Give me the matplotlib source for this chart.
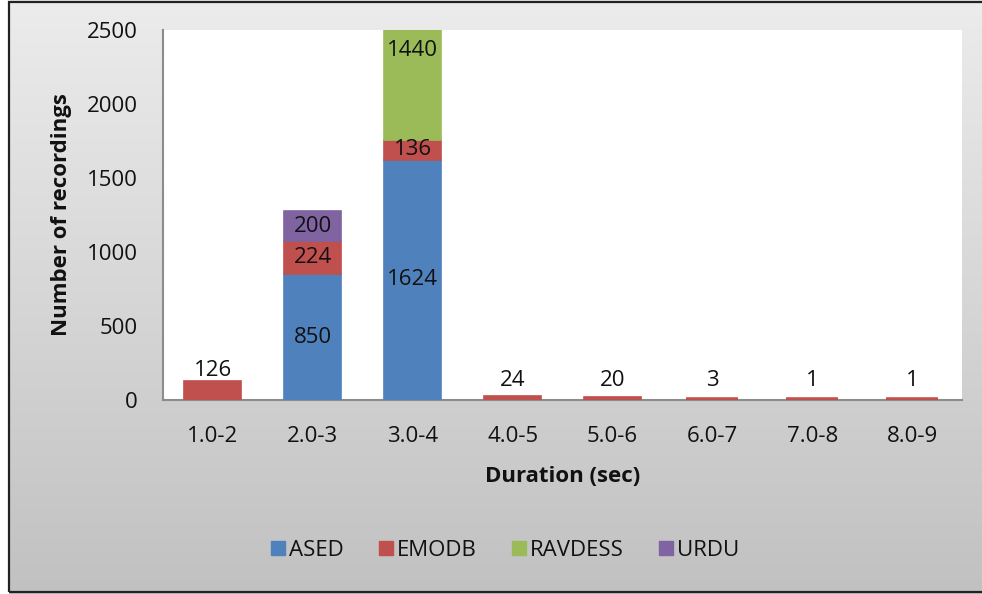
import numpy as np
import matplotlib
matplotlib.use("Agg")
import matplotlib.pyplot as plt
from matplotlib.patches import Rectangle
from matplotlib.lines import Line2D
from matplotlib.colors import LinearSegmentedColormap

categories = ["1.0-2", "2.0-3", "3.0-4", "4.0-5", "5.0-6", "6.0-7", "7.0-8", "8.0-9"]
series_names = ["ASED", "EMODB", "RAVDESS", "URDU"]
ased = [0, 850, 1624, 0, 0, 0, 0, 0]
emodb = [126, 224, 136, 24, 20, 3, 1, 1]
ravdess = [0, 0, 1440, 0, 0, 0, 0, 0]
urdu = [0, 200, 0, 0, 0, 0, 0, 0]
colors = ["#4F81BD", "#C0504D", "#9BBB59", "#8064A2"]
yticks = [0, 500, 1000, 1500, 2000, 2500]

FONT = "Open Sans"
plt.rcParams["font.family"] = [FONT, "DejaVu Sans"]
FS = 16

W, H = 982, 594
fig = plt.figure(figsize=(W / 100, H / 100), dpi=100)
fig.patch.set_facecolor("white")

# gradient background
bg = fig.add_axes([0, 0, 1, 1], zorder=-10)
grad = np.linspace(0, 1, 256).reshape(-1, 1)
cmap = LinearSegmentedColormap.from_list("g", ["#ececec", "#c1c1c1"])
bg.imshow(grad, aspect="auto", cmap=cmap, extent=[0, 1, 0, 1], origin="upper")
bg.set_xlim(0, 1)
bg.set_ylim(0, 1)
bg.axis("off")
bg.add_patch(Rectangle((0, 0), 8 / W, 1, color="white", zorder=2))
bg.add_patch(Rectangle((8.5 / W, 2 / H), 1.2, 590 / H, fill=False, edgecolor="#222222", linewidth=1.6, zorder=3))

ax = fig.add_axes([163 / W, 1 - 400 / H, (962 - 163) / W, (400 - 30) / H])
ax.set_facecolor("white")

x = np.arange(len(categories))
data = [ased, emodb, ravdess, urdu]
bottom = np.zeros(len(categories))
ymax = 2500
nonzero_count = np.sum([np.array(d) > 0 for d in data], axis=0)
for name, vals, col in zip(series_names, data, colors):
    vals = np.array(vals, dtype=float)
    m = vals > 0
    small = m & (vals < 20) & (nonzero_count == 1)
    big = m & ~small
    ax.bar(x[big], vals[big], 0.57, bottom=bottom[big], color=col, edgecolor=col,
           linewidth=1.2, label=name, zorder=3)
    if small.any():
        # minimum rendered thickness for very small bars
        ax.bar(x[small], vals[small], 0.52, bottom=bottom[small], color=col, edgecolor=col,
               linewidth=4, zorder=3)
    for i, v in enumerate(vals):
        if v <= 0:
            continue
        if nonzero_count[i] == 1:
            ax.text(x[i], max(bottom[i] + v, 60), f"{int(v)}", ha="center", va="bottom",
                    fontsize=FS, color="#111111", zorder=4)
        else:
            yc = bottom[i] + v / 2
            if bottom[i] + v > ymax:
                yc = ymax - 140
            ax.text(x[i], yc, f"{int(v)}", ha="center", va="center",
                    fontsize=FS, color="#111111", zorder=4)
    bottom += vals

ax.set_xlim(-0.5, len(categories) - 0.5)
ax.set_ylim(0, ymax)
ax.set_yticks(yticks)
ax.set_yticklabels([str(t) for t in yticks], fontsize=FS, color="#111111")
ax.set_xticks(x)
ax.set_xticklabels(categories, fontsize=FS, color="#111111")
ax.tick_params(axis="y", length=0, pad=18)
ax.tick_params(axis="x", length=0, pad=19)
for s in ["top", "right"]:
    ax.spines[s].set_visible(False)
for s in ["left", "bottom"]:
    ax.spines[s].set_color("#8c8c8c")
    ax.spines[s].set_linewidth(1.5)

fig.text(62 / W, 1 - 215 / H, "Number of recordings", rotation=90, ha="center", va="center",
         fontsize=FS, fontweight="bold", color="#111111")
fig.text(563 / W, 1 - 477 / H, "Duration (sec)", ha="center", va="center",
         fontsize=FS, fontweight="bold", color="#111111")

handles = [Line2D([0], [0], marker="s", linestyle="none", markersize=10.5, markerfacecolor=c,
                  markeredgecolor=c) for c in colors]
leg = fig.legend(handles, series_names, loc="center", bbox_to_anchor=(504 / W, 1 - 550 / H),
                 ncol=4, frameon=False, fontsize=FS, handletextpad=0.1, columnspacing=1.5,
                 handlelength=0.8)
for t in leg.get_texts():
    t.set_color("#111111")

fig.savefig("out.png", dpi=100)
